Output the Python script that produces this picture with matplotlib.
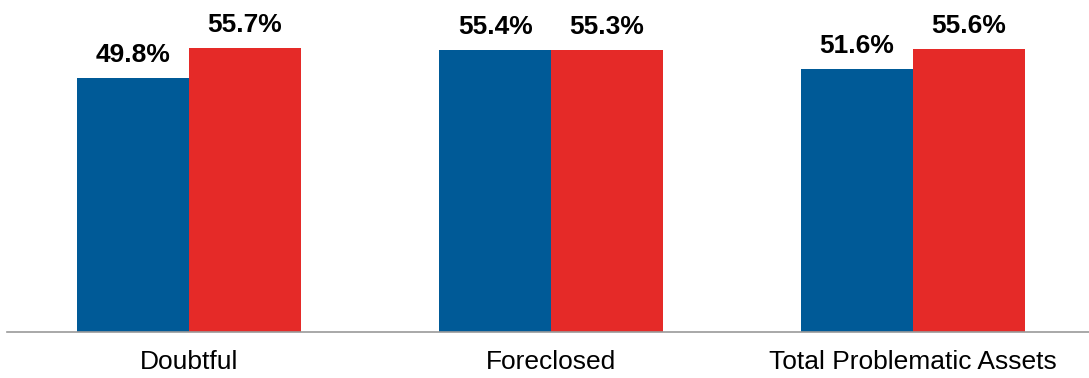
import numpy as np
import matplotlib.pyplot as plt

plt.rcParams['font.family'] = ['Liberation Sans', 'DejaVu Sans']

categories = ['Doubtful', 'Foreclosed', 'Total Problematic Assets']
series_a = [49.8, 55.4, 51.6]
series_b = [55.7, 55.3, 55.6]

blue = '#005a97'
red = '#e52a28'

fig = plt.figure(figsize=(10.89, 3.78), dpi=100)
ax = fig.add_axes([7 / 1089, 46 / 378, 1082 / 1089, 332 / 378])

x = np.arange(len(categories))
w = 0.309
bars_a = ax.bar(x - w / 2, series_a, width=w, color=blue, linewidth=0)
bars_b = ax.bar(x + w / 2, series_b, width=w, color=red, linewidth=0)

# value labels above each bar
for bars in (bars_a, bars_b):
    for b in bars:
        h = b.get_height()
        ax.annotate(f'{h:.1f}%', (b.get_x() + b.get_width() / 2, h),
                    xytext=(0, 11.5), textcoords='offset points',
                    ha='center', va='baseline', fontsize=19, fontweight='bold')

ax.set_xlim(-0.503, 2.486)
ax.set_ylim(0, 65.2)
ax.set_xticks(x)
ax.set_xticklabels(categories, fontsize=19)
ax.tick_params(axis='x', length=0, pad=13)
ax.set_yticks([])
for side in ('top', 'right', 'left'):
    ax.spines[side].set_visible(False)
ax.spines['bottom'].set_color('#9a9a9a')
ax.spines['bottom'].set_linewidth(1.2)

fig.savefig('out.png', dpi=100)
